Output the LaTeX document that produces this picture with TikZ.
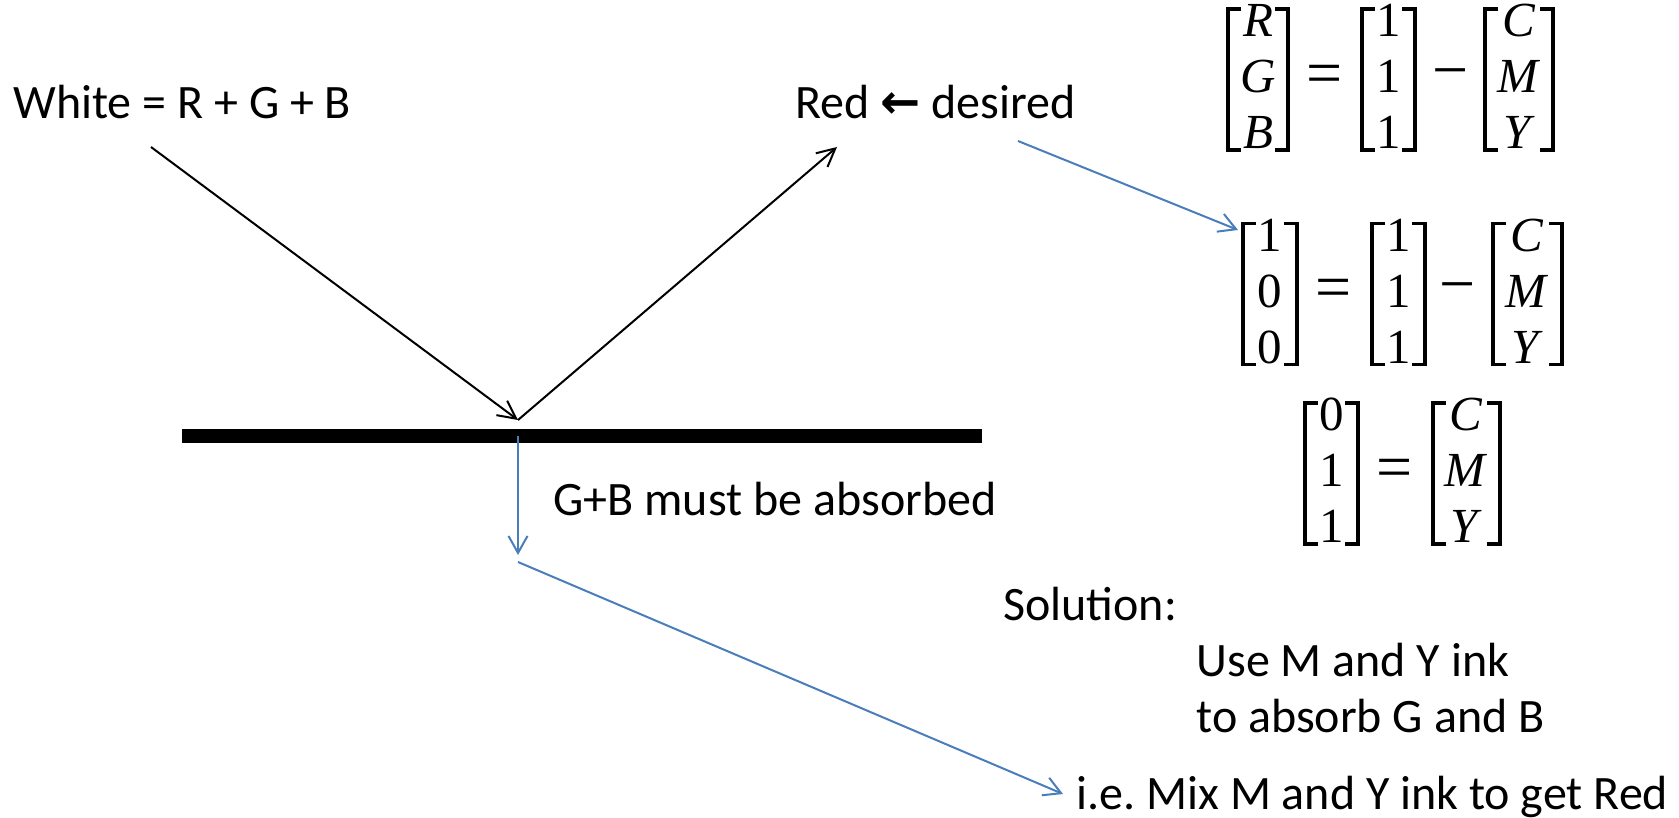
\documentclass[tikz,border=0pt]{standalone}
\usepackage{fontspec}
\newfontfamily\calib{Carlito}
\newfontfamily\djv{DejaVu Sans}
\newfontfamily\mserif{Liberation Serif}
\usetikzlibrary{arrows.meta}
\definecolor{lineblue}{RGB}{74,126,187}
\tikzset{
  lbl/.style={anchor=base west, inner sep=0pt, font=\calib\fontsize{24}{29}\selectfont},
  ray/.style={draw=black, line width=1pt, -{Straight Barb[length=9pt,width=9pt]}},
  bray/.style={draw=lineblue, line width=1pt, -{Straight Barb[length=8.5pt,width=9.5pt]}},
  brk/.style={line width=1.6pt, line join=miter, line cap=butt},
  vecent/.style={inner sep=0pt, font=\mserif\fontsize{24.5}{28}\selectfont},
  op/.style={inner sep=0pt, font=\mserif\fontsize{32}{34}\selectfont},
  barstyle/.style={fill=black, draw=none, inner sep=0pt, minimum width=400pt, minimum height=7pt},
}
\newcommand\colvec[7]{%
  \node[vecent] (#1) at ({#2},{#3+2}) {\begin{tabular}{@{}c@{}}#5\\#6\\#7\end{tabular}};
  \draw[brk] ({#2-#4+13},{#3-70.5}) -- ({#2-#4},{#3-70.5}) -- ({#2-#4},{#3+70.5}) -- ({#2-#4+13},{#3+70.5});
  \draw[brk] ({#2+#4-13},{#3-70.5}) -- ({#2+#4},{#3-70.5}) -- ({#2+#4},{#3+70.5}) -- ({#2+#4-13},{#3+70.5});
}
\begin{document}
\frenchspacing
\begin{tikzpicture}[x=0.5pt,y=-0.5pt]
\useasboundingbox (0,0) rectangle (1679,818);

% texts
\node[lbl] (white) at (13,119) {White = R + G + B};
\node[lbl] (red) at (795,119) {Red {\djv\bfseries ←} desired};
\node[lbl] (gb) at (553,515) {G+B must be absorbed};
\node[lbl] (sol) at (1003,620) {Solution:};
\node[lbl] (use) at (1196,676) {Use M and Y ink};
\node[lbl] (toab) at (1196,732) {to absorb G and B};
\node[lbl] (ie) at (1076,809) {i.e. Mix M and Y ink to get Red};

% surface
\node[barstyle] (bar) at (582,436) {};

% rays
\coordinate (wstart) at (151,147);
\coordinate (hit) at (518,420);
\coordinate (rtip) at (837,147);
\draw[ray] (wstart) -- (hit);
\draw[ray] (hit) -- (rtip);

\coordinate (dstart) at (1018,141);
\coordinate (dtip) at (1238,230);
\draw[bray] (dstart) -- (dtip);

\coordinate (barpt) at (518,436);
\coordinate (abstip) at (518,555);
\draw[bray] (barpt) -- (abstip);

\coordinate (mixstart) at (518,562);
\coordinate (mixtip) at (1063,794);
\draw[bray] (mixstart) -- (mixtip);

% equation 1
\colvec{v11}{1258}{79.5}{30}{\textit{R}}{\textit{G}}{\textit{B}}
\node[op] (eq1) at (1325,80) {=};
\colvec{v12}{1388.5}{79.5}{26.5}{1}{1}{1}
\node[op] (mi1) at (1451,80) {−};
\colvec{v13}{1519}{79.5}{34}{\textit{C}}{\textit{M}}{\textit{Y}}

% equation 2
\colvec{v21}{1270}{294}{27}{1}{0}{0}
\node[op] (eq2) at (1334,294) {=};
\colvec{v22}{1398.5}{294}{26.5}{1}{1}{1}
\node[op] (mi2) at (1458,294) {−};
\colvec{v23}{1527.5}{294}{34.5}{\textit{C}}{\textit{M}}{\textit{Y}}

% equation 3
\colvec{v31}{1331.5}{473.5}{26.5}{0}{1}{1}
\node[op] (eq3) at (1394.5,474) {=};
\colvec{v32}{1466.5}{473.5}{33.5}{\textit{C}}{\textit{M}}{\textit{Y}}
\end{tikzpicture}
\end{document}
